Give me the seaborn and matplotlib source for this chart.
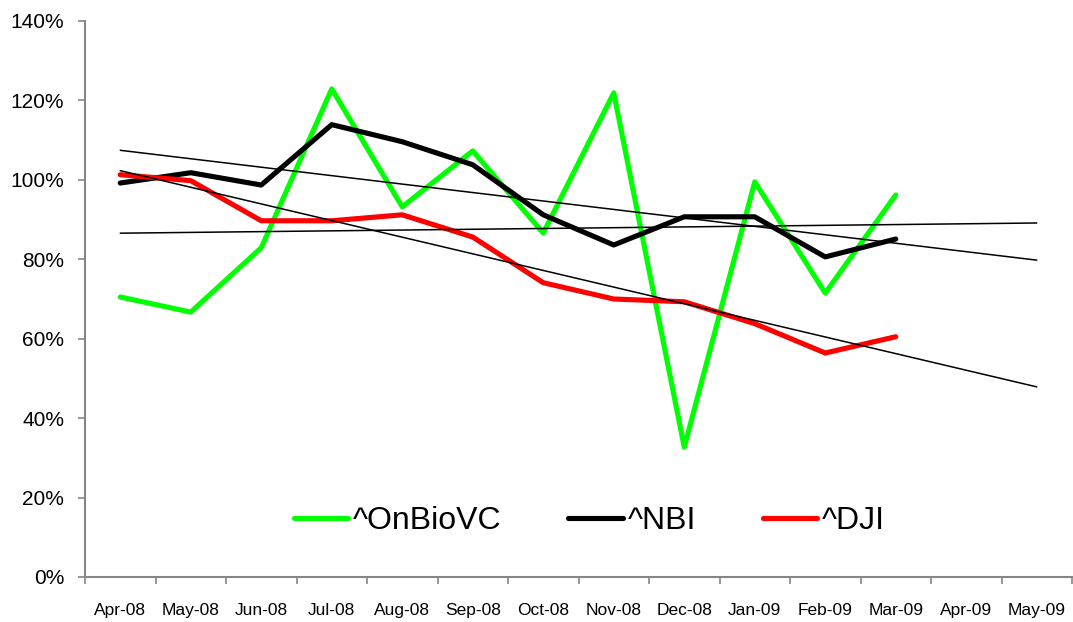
import numpy as np
import pandas as pd
import seaborn as sns
import matplotlib.pyplot as plt
from matplotlib.ticker import FixedLocator, PercentFormatter

# months on the category axis (last two only carry the trend lines)
months = ["Apr-08", "May-08", "Jun-08", "Jul-08", "Aug-08", "Sep-08", "Oct-08",
          "Nov-08", "Dec-08", "Jan-09", "Feb-09", "Mar-09", "Apr-09", "May-09"]

# values, in percent
onbiovc = [70.5, 66.7, 82.9, 122.9, 93.2, 107.3, 86.6, 121.9, 32.7, 99.5, 71.5, 96.2]
nbi = [99.2, 101.8, 98.7, 113.9, 109.6, 103.8, 91.2, 83.6, 90.7, 90.7, 80.6, 85.1]
dji = [101.3, 99.8, 89.7, 89.7, 91.2, 85.6, 74.1, 70.0, 69.3, 63.8, 56.4, 60.5]

series_names = ["^OnBioVC", "^NBI", "^DJI"]
series_colors = ["#00FF00", "#000000", "#FF0000"]

sns.set_theme(style="white")
plt.rcParams["font.family"] = ["Liberation Sans", "DejaVu Sans"]
plt.rcParams["text.color"] = "black"
plt.rcParams["xtick.color"] = "black"
plt.rcParams["ytick.color"] = "black"

df = pd.DataFrame({"month": months[:12], "^OnBioVC": onbiovc, "^NBI": nbi, "^DJI": dji})
df["pos"] = np.arange(len(df))

fig = plt.figure(figsize=(10.73, 6.22), dpi=100)
ax = fig.add_axes([85 / 1073, 1 - 577 / 622, 987 / 1073, 556 / 622])

for name, col in zip(series_names, series_colors):
    sns.lineplot(data=df, x="pos", y=name, ax=ax, color=col, lw=3.7,
                 label=name, solid_joinstyle="round", solid_capstyle="round", zorder=2)

# linear trend lines, extended two periods ahead
x_ext = np.arange(len(months))
for name in series_names:
    k, b = np.polyfit(df["pos"], df[name], 1)
    ax.plot(x_ext, k * x_ext + b, color="black", lw=1.1, zorder=3)

ax.set_xlim(-0.5, len(months) - 0.5)
ax.set_ylim(0, 140)
ax.yaxis.set_major_locator(FixedLocator(np.arange(0, 141, 20)))
ax.yaxis.set_major_formatter(PercentFormatter(decimals=0))

# tick marks between categories, labels at categories
ax.set_xticks(np.arange(-0.5, len(months), 1.0))
ax.set_xticklabels([])
ax.set_xticks(np.arange(len(months)), minor=True)
ax.set_xticklabels(months, minor=True, fontsize=12.5)
ax.tick_params(axis="x", which="major", length=5, width=1.2, color="#868686", direction="out", bottom=True)
ax.tick_params(axis="x", which="minor", length=0, pad=19, labelcolor="black")
ax.tick_params(axis="y", length=5, width=1.2, color="#868686", direction="out", left=True,
               labelsize=15, pad=10, labelcolor="black")

ax.set_xlabel("")
ax.set_ylabel("")
for s in ["top", "right"]:
    ax.spines[s].set_visible(False)
for s in ["left", "bottom"]:
    ax.spines[s].set_color("#868686")
    ax.spines[s].set_linewidth(1.5)

leg = ax.legend(loc="center", bbox_to_anchor=(0.511, 0.100), ncol=3, frameon=False,
                fontsize=23, handlelength=1.7, handletextpad=0.15, columnspacing=2.1)
for t in leg.get_texts():
    t.set_color("black")

fig.savefig("out.png", dpi=100)
